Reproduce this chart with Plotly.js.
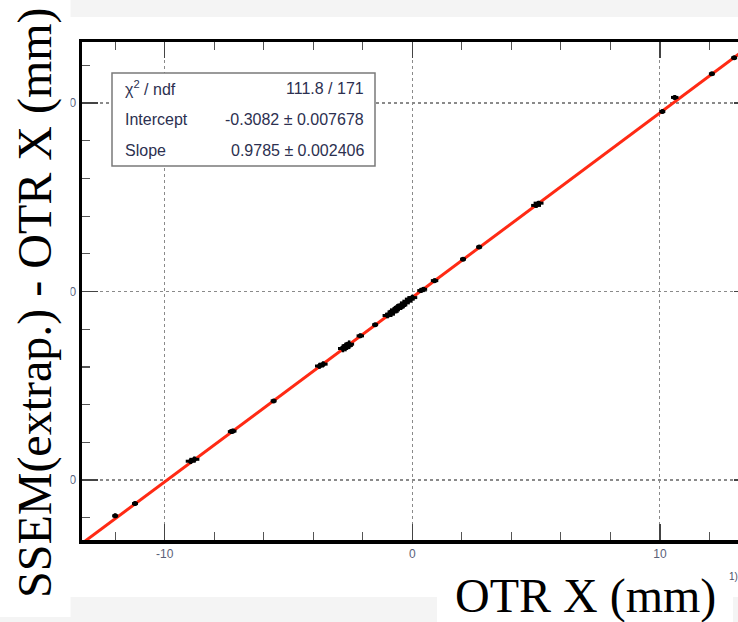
<!DOCTYPE html>
<html><head><meta charset="utf-8">
<script src="https://cdn.plot.ly/plotly-3.0.1.min.js"></script>
<style>html,body{margin:0;padding:0;overflow:hidden;background:#fff}#chart{width:760px;height:622px}</style>
</head><body><div id="chart"></div><script>
// measured points: OTR X (mm) vs SSEM extrapolated - OTR X (mm)
const otrX  = [-12.0,-11.2,-8.95,-8.8,-7.3,-7.25,-5.6,-3.75,-3.6,-2.8,-2.7,-2.65,-2.6,-2.55,-2.1,-1.5,-1.0,-0.9,-0.8,-0.75,-0.7,-0.6,-0.55,-0.5,-0.45,-0.4,-0.3,-0.2,-0.1,0.0,0.35,0.45,0.9,2.05,2.7,5.0,5.1,10.1,10.6,12.1,13.0];
const ssemY = [-11.9,-11.25,-9.0,-8.9,-7.43,-7.4,-5.8,-3.95,-3.85,-3.02,-2.97,-2.88,-2.86,-2.79,-2.35,-1.76,-1.27,-1.2,-1.08,-1.05,-0.97,-0.9,-0.84,-0.81,-0.74,-0.71,-0.6,-0.51,-0.4,-0.32,0.05,0.12,0.58,1.72,2.36,4.57,4.69,9.55,10.3,11.55,12.4];
const errX  = [0.12,0.12,0.2,0.2,0.15,0.15,0.12,0.18,0.18,0.2,0.2,0.2,0.2,0.2,0.15,0.12,0.2,0.2,0.2,0.2,0.2,0.2,0.2,0.2,0.2,0.2,0.2,0.2,0.2,0.2,0.15,0.15,0.15,0.12,0.12,0.2,0.2,0.12,0.15,0.12,0.12];
const errY  = [0.12,0.12,0.15,0.15,0.12,0.12,0.1,0.15,0.15,0.2,0.2,0.2,0.2,0.2,0.12,0.1,0.15,0.15,0.15,0.15,0.15,0.15,0.15,0.15,0.15,0.15,0.15,0.15,0.15,0.15,0.12,0.12,0.12,0.1,0.1,0.12,0.12,0.1,0.12,0.1,0.1];
// fit result
const fitSlope = 0.9785;
const fitIntercept = -0.3082;
const fitXRange = [-13.6, 13.9];
// axis ticks
const xTickVals = [-10, 0, 10];
const yTickVals = [-10, 0, 10];
// stats box
const statsLabels = ['χ<sup>2</sup> / ndf', 'Intercept', 'Slope'];
const statsValues = ['111.8 / 171', '-0.3082 ± 0.007678', '0.9785 ± 0.002406'];

const L = 82, T = 42, W = 668, H = 498;
const px = x => (x - L) / W;
const py = y => (T + H - y) / H;

const fitY = fitXRange.map(x => fitSlope * x + fitIntercept);

const traces = [
  {x: fitXRange, y: fitY, mode: 'lines', line: {color: '#ff2a14', width: 3}, hoverinfo: 'skip', showlegend: false},
  {x: otrX, y: ssemY, mode: 'markers', marker: {color: '#000', size: 5},
   error_x: {type: 'data', array: errX, color: '#000', thickness: 3, width: 0},
   error_y: {type: 'data', array: errY, color: '#000', thickness: 2.5, width: 0},
   showlegend: false}
];

const axisCommon = {
  showline: true, linecolor: '#000', linewidth: 3.5, mirror: 'ticks',
  ticks: 'inside', ticklen: 16, tickwidth: 1.5, tickcolor: '#444',
  showgrid: true, gridcolor: '#8a8a8a', griddash: 'dot', gridwidth: 1.2,
  zeroline: false,
  tickfont: {family: 'Liberation Sans, Arial', size: 12, color: '#5a6178'},
  minor: {ticks: 'inside', ticklen: 8, dtick: 2, tick0: 0, tickwidth: 1.2, tickcolor: '#555', showgrid: false}
};

const statsAnn = [];
const rowY = [88, 119, 150];
for (let i = 0; i < statsLabels.length; i++) {
  statsAnn.push({xref: 'paper', yref: 'paper', x: px(123), y: py(rowY[i]), xanchor: 'left', yanchor: 'middle',
    text: statsLabels[i], showarrow: false, font: {family: 'Liberation Sans, Arial', size: 16, color: '#2c3050'}});
  statsAnn.push({xref: 'paper', yref: 'paper', x: px(366), y: py(rowY[i]), xanchor: 'right', yanchor: 'middle',
    text: statsValues[i], showarrow: false, font: {family: 'Liberation Sans, Arial', size: 16, color: '#2c3050'}});
}

const layout = {
  width: 760, height: 622, autosize: false,
  margin: {l: L, r: 760 - L - W, t: T, b: 622 - T - H},
  paper_bgcolor: '#fff', plot_bgcolor: '#fff',
  xaxis: Object.assign({}, axisCommon, {range: [-13.34, 13.64], tickvals: xTickVals, ticktext: xTickVals.map(String)}),
  yaxis: Object.assign({}, axisCommon, {range: [-13.18, 13.24], tickvals: yTickVals, ticktext: yTickVals.map(String)}),
  shapes: [
    {type: 'rect', xref: 'paper', yref: 'paper', x0: px(70), x1: px(770), y0: py(17), y1: py(0), fillcolor: '#f4f4f4', line: {width: 0}, layer: 'above'},
    {type: 'rect', xref: 'paper', yref: 'paper', x0: px(0), x1: px(437), y0: py(622), y1: py(597), fillcolor: '#f4f4f4', line: {width: 0}, layer: 'above'},
    {type: 'rect', xref: 'paper', yref: 'paper', x0: px(733), x1: px(770), y0: py(622), y1: py(597), fillcolor: '#f4f4f4', line: {width: 0}, layer: 'above'},
    {type: 'rect', xref: 'paper', yref: 'paper', x0: px(0), x1: px(70.5), y0: py(617), y1: py(0), fillcolor: '#fff', line: {width: 0}, layer: 'above'},
    {type: 'rect', xref: 'paper', yref: 'paper', x0: px(112), x1: px(375), y0: py(166), y1: py(73), fillcolor: '#fff', line: {width: 1.5, color: '#7a7a7a'}, layer: 'above'}
  ],
  annotations: statsAnn.concat([
    {xref: 'paper', yref: 'paper', x: px(35), y: py(303), xanchor: 'center', yanchor: 'middle', textangle: -90,
     text: 'SSEM(extrap.) - OTR X (mm)', showarrow: false, font: {family: 'Liberation Serif, Times New Roman', size: 48, color: '#000'}},
    {xref: 'paper', yref: 'paper', x: px(585), y: py(596), xanchor: 'center', yanchor: 'middle',
     text: 'OTR X (mm)', showarrow: false, font: {family: 'Liberation Serif, Times New Roman', size: 48, color: '#000'}},
    {xref: 'paper', yref: 'paper', x: px(727), y: py(576), xanchor: 'left', yanchor: 'middle',
     text: '1)', showarrow: false, font: {family: 'Liberation Sans, Arial', size: 10, color: '#4a5068'}}
  ])
};

Plotly.newPlot('chart', traces, layout, {staticPlot: true, displayModeBar: false});
</script></body></html>
